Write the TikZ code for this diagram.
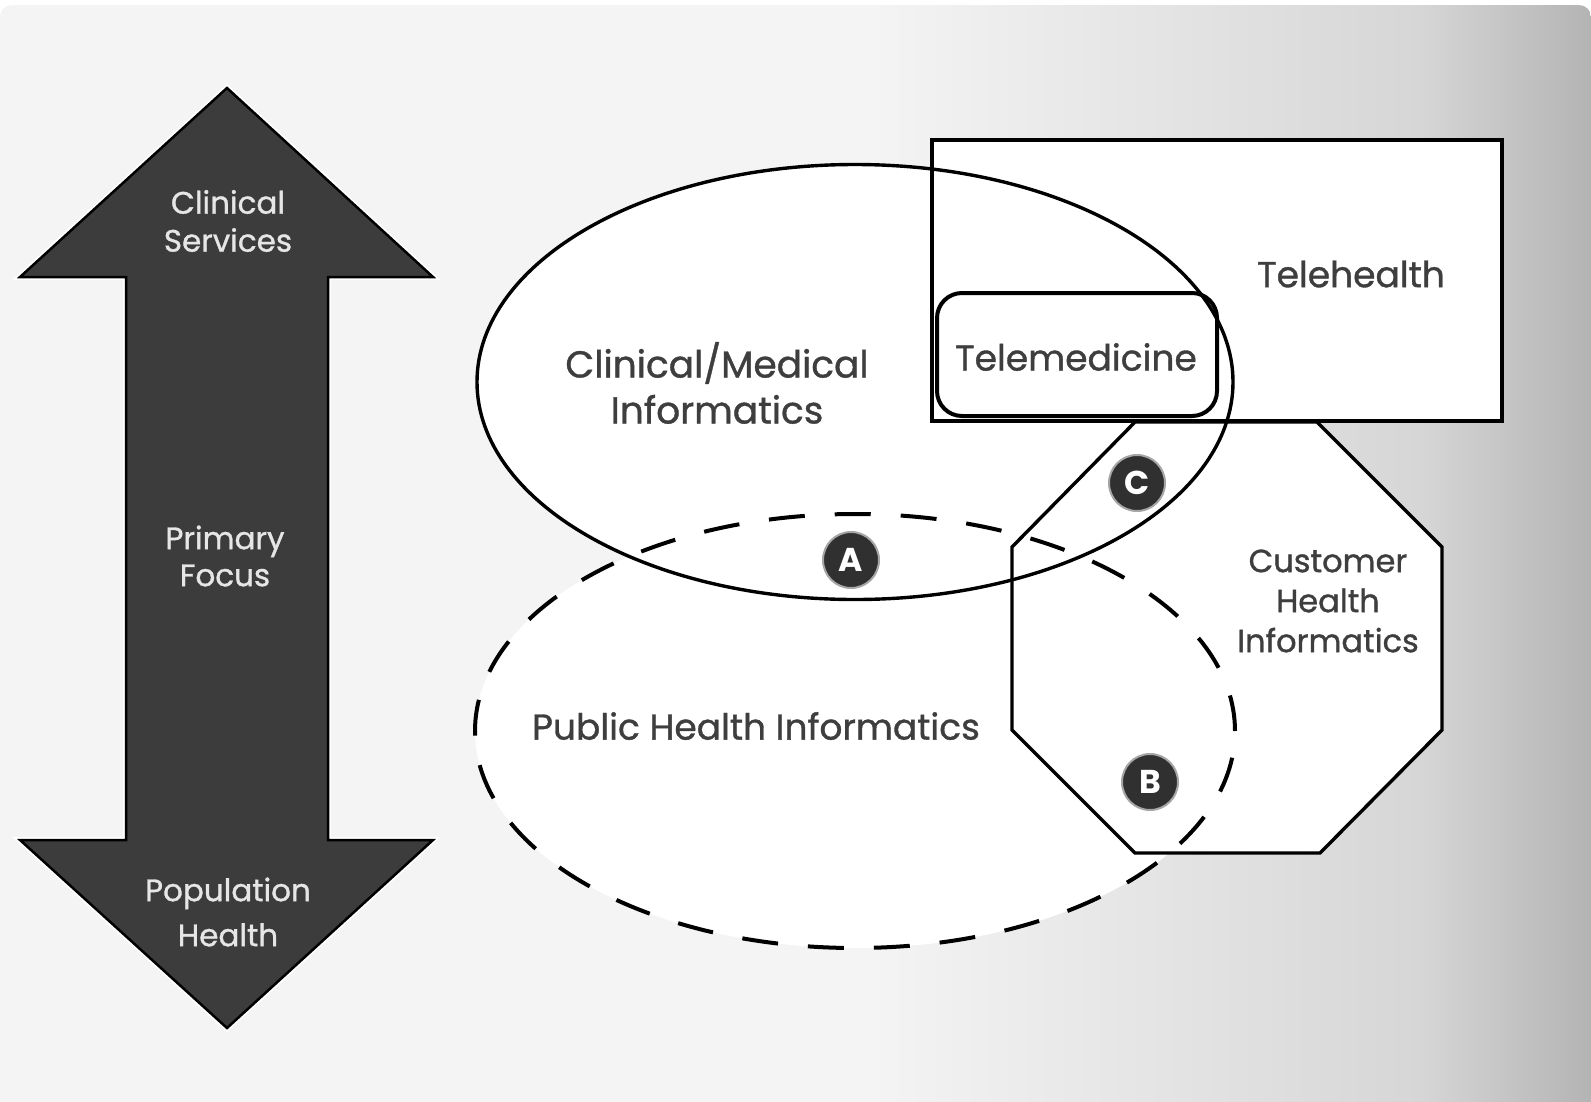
\documentclass[tikz,border=0pt]{standalone}
\usepackage{fontspec}
\setmainfont{Poppins}
\newfontfamily\lblfont{Poppins}[FakeBold=1.0]
\usetikzlibrary{shapes.geometric}
\definecolor{bgA}{HTML}{F4F4F4}
\definecolor{bgB}{HTML}{D6D6D6}
\definecolor{bgC}{HTML}{B2B2B2}
\definecolor{arrowfill}{HTML}{3C3C3C}
\definecolor{txt}{HTML}{3E3E3E}
\definecolor{atxt}{HTML}{E6E6E6}
\definecolor{badge}{HTML}{303030}
\begin{document}
\begin{tikzpicture}[x=1pt,y=-1pt,
  lbl/.style={font=\lblfont\fontsize{36}{46}\selectfont, text=txt, align=center, inner sep=0pt},
  albl/.style={text=atxt, align=center, inner sep=0pt},
  badgec/.style={circle, fill=badge, draw=gray!70, line width=2pt, minimum size=56pt, inner sep=0pt, text=white, font=\bfseries\fontsize{33}{33}\selectfont},
  shapefill/.style={fill=white, draw=none, inner sep=0pt, outer sep=0pt},
  shapeline/.style={draw=black, line width=3.4pt, inner sep=0pt, outer sep=0pt},
  ell/.style={ellipse, minimum width=756pt, minimum height=435pt},
  pubell/.style={ellipse, minimum width=760pt, minimum height=434pt},
  threct/.style={rectangle, minimum width=570pt, minimum height=281pt},
  tmrect/.style={rectangle, rounded corners=25pt, minimum width=280pt, minimum height=123pt},
]
\useasboundingbox (0,0) rectangle (1591,1101);
\fill[white] (0,0) rectangle (1591,1101);
\begin{scope}
  \clip[rounded corners=12pt] (0,5) -- (1591,5) -- (1591,1130) -- (0,1130) -- cycle;
  \fill[bgA] (0,-10) rectangle (871,1111);
  \shade[left color=bgA, right color=bgB] (870,-10) rectangle (1421,1111);
  \shade[left color=bgB, right color=bgC] (1420,-10) rectangle (1600,1111);
\end{scope}

% double arrow
\draw[white, line width=6pt, line join=miter]
  (227,88) -- (433,277) -- (328,277) -- (328,840) -- (433,840) -- (227,1028)
  -- (20,840) -- (126,840) -- (126,277) -- (20,277) -- cycle;
\filldraw[fill=arrowfill, draw=black, line width=2.5pt, line join=miter]
  (227,88) -- (433,277) -- (328,277) -- (328,840) -- (433,840) -- (227,1028)
  -- (20,840) -- (126,840) -- (126,277) -- (20,277) -- cycle;
\node[albl, font=\lblfont\fontsize{31}{38}\selectfont] (cs) at (228,221) {Clinical\\Services};
\node[albl, font=\lblfont\fontsize{31}{37}\selectfont] (pf) at (225,556) {Primary\\Focus};
\node[albl, font=\lblfont\fontsize{31}{45}\selectfont] (ph) at (228,912) {Population\\Health};

% fills
\node[shapefill, ell] (cmf) at (855,382) {};
\node[shapefill, pubell] (phf) at (855,731) {};
\fill[white] (1135,422) -- (1317,422) -- (1442,547) -- (1442,730) -- (1320,853)
  -- (1135,853) -- (1012,730) -- (1012,547) -- cycle;
\node[shapefill, threct] (thf) at (1217,280.5) {};
\node[shapefill, tmrect] (tmf) at (1077,354.5) {};

% outlines
\draw[shapeline] (1135,422) -- (1317,422) -- (1442,547) -- (1442,730) -- (1320,853)
  -- (1135,853) -- (1012,730) -- (1012,547) -- cycle;
\node[shapeline, threct, line width=4pt] (th) at (1217,280.5) {};
\node[shapeline, tmrect, line width=4pt] (tm) at (1077,354.5) {};
\node[shapeline, ell] (cm) at (855,382) {};
\node[shapeline, pubell, line width=4pt, dash pattern=on 36pt off 30pt] (pubh) at (855,731) {};

% labels
\node[lbl, font=\lblfont\fontsize{37.5}{46}\selectfont] (cmt) at (717,383) {Clinical/Medical\\Informatics};
\node[lbl] (tmt) at (1076,357) {Telemedicine};
\node[lbl] (tht) at (1351,274) {Telehealth};
\node[lbl, font=\lblfont\fontsize{32}{40}\selectfont] (cht) at (1328,601) {Customer\\Health\\Informatics};
\node[lbl] (pht) at (756,726) {Public Health Informatics};

% badges
\node[badgec] (a) at (851,560) {A};
\node[badgec] (b) at (1150,782) {B};
\node[badgec] (c) at (1137,483) {C};
\end{tikzpicture}
\end{document}
